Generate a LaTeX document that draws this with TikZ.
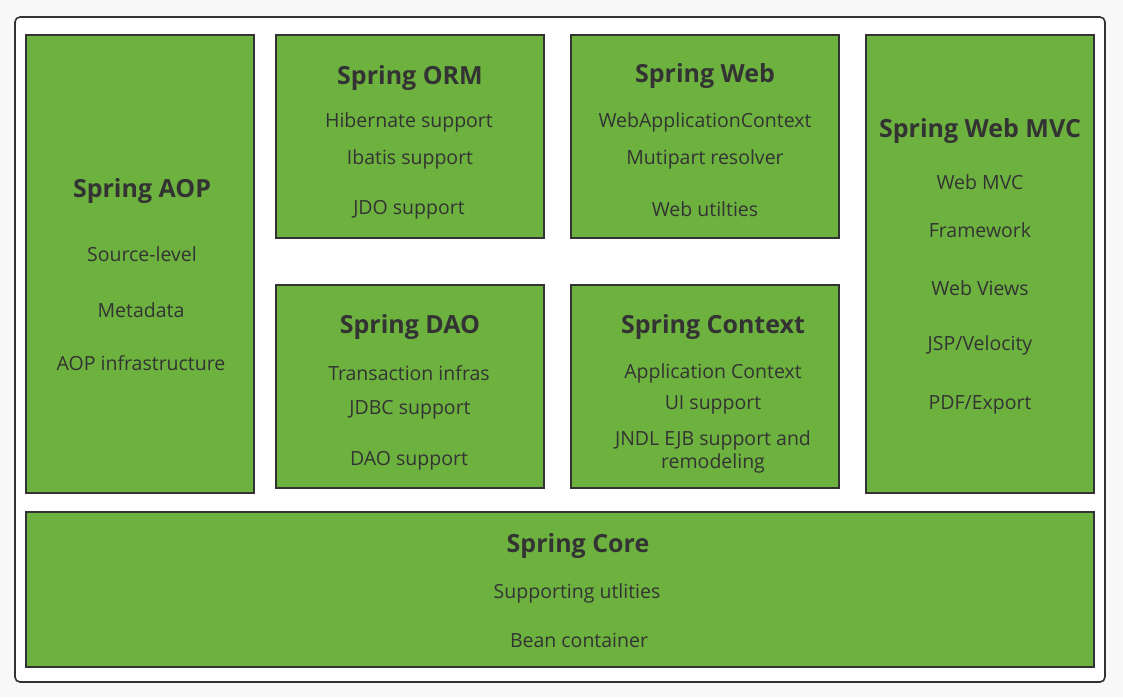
\documentclass[tikz,border=0pt]{standalone}
\usepackage{fontspec}
\setmainfont{Open Sans}
\definecolor{bg}{HTML}{F8F8F8}
\definecolor{sgreen}{HTML}{6DB23F}
\definecolor{ink}{HTML}{333333}
\begin{document}
\begin{tikzpicture}[x=1pt,y=-1pt,
  modbox/.style={draw=ink,line width=2pt,fill=sgreen},
  ttl/.style={font=\fontsize{25}{29}\selectfont\bfseries,text=ink,inner sep=0pt},
  itm/.style={font=\fontsize{19.5}{23.5}\selectfont,text=ink,inner sep=0pt,align=center,yshift=-1.5pt}]
\fill[bg] (0,0) rectangle (1123,697);
\useasboundingbox (0,0) rectangle (1123,697);
\draw[ink,line width=1.6pt,fill=white,rounded corners=5pt] (15,17) rectangle (1105,682);
% boxes
\draw[modbox] (26,35) rectangle (254,493);
\draw[modbox] (276,35) rectangle (544,238);
\draw[modbox] (571,35) rectangle (839,238);
\draw[modbox] (866,35) rectangle (1094,493);
\draw[modbox] (276,285) rectangle (544,488);
\draw[modbox] (571,285) rectangle (839,488);
\draw[modbox] (26,512) rectangle (1094,667);
% AOP
\node[ttl] (aopt) at (142,191) {Spring AOP};
\node[itm] (aop1) at (142,253) {Source-level};
\node[itm] (aop2) at (141,309) {Metadata};
\node[itm] (aop3) at (141,362) {AOP infrastructure};
% ORM
\node[ttl] (ormt) at (410,78) {Spring ORM};
\node[itm] (orm1) at (409,121) {Hibernate support};
\node[itm] (orm2) at (410,158) {Ibatis support};
\node[itm] (orm3) at (409,208) {JDO support};
% Web
\node[ttl] (webt) at (705,76) {Spring Web};
\node[itm] (web1) at (705,121) {WebApplicationContext};
\node[itm] (web2) at (705,158) {Mutipart resolver};
\node[itm] (web3) at (705,208) {Web utilties};
% MVC
\node[ttl] (mvct) at (980,131) {Spring Web MVC};
\node[itm] (mvc1) at (980,181) {Web MVC};
\node[itm] (mvc2) at (980,229) {Framework};
\node[itm] (mvc3) at (980,287) {Web Views};
\node[itm] (mvc4) at (980,344) {JSP/Velocity};
\node[itm] (mvc5) at (980,403) {PDF/Export};
% DAO
\node[ttl] (daot) at (410,327) {Spring DAO};
\node[itm] (dao1) at (409,372) {Transaction infras};
\node[itm] (dao2) at (410,408) {JDBC support};
\node[itm] (dao3) at (409,459) {DAO support};
% Context
\node[ttl] (ctxt) at (713,327) {Spring Context};
\node[itm] (ctx1) at (713,372) {Application Context};
\node[itm] (ctx2) at (713,403) {UI support};
\node[itm] (ctx3) at (713,450) {JNDL EJB support and\\[-0.5pt]remodeling};
% Core
\node[ttl] (coret) at (578,546) {Spring Core};
\node[itm] (core1) at (577,592) {Supporting utlities};
\node[itm] (core2) at (579,639) {Bean container};
\end{tikzpicture}
\end{document}
